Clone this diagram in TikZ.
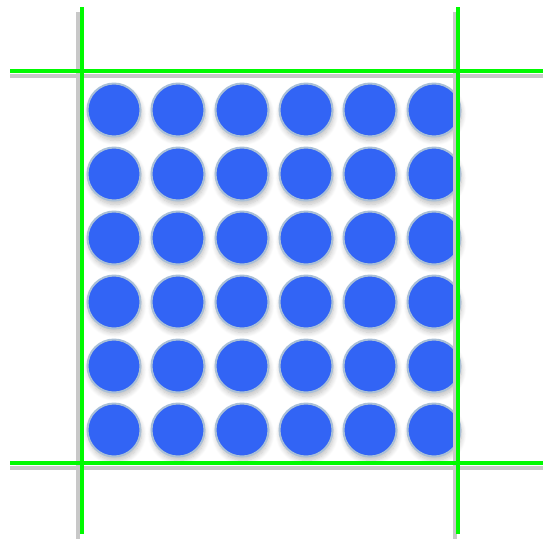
\documentclass[tikz,border=0pt]{standalone}
\usepackage{tikz}
\usetikzlibrary{shadows.blur}
\definecolor{dotblue}{RGB}{50,100,245}
\definecolor{dotrim}{RGB}{170,192,215}
\definecolor{gridgreen}{RGB}{0,250,0}
\definecolor{gridshade}{RGB}{200,200,200}
\tikzset{
  dot/.style={circle, draw=dotrim, line width=2pt, fill=dotblue,
    minimum size=53pt, inner sep=0pt,
    blur shadow={shadow xshift=1pt, shadow yshift=-4pt, shadow blur radius=5pt,
      shadow blur steps=8, shadow opacity=25}},
  gridline/.style={draw=gridgreen, line width=4.8pt},
  gridshade/.style={draw=gridshade, line width=3.5pt},
}

\begin{document}
\begin{tikzpicture}[x=1pt, y=-1pt]
    \useasboundingbox (0,0) rectangle (543,539);
    % dots
    \foreach \i in {0,...,5}
      \foreach \j in {0,...,5}
        \node[dot] (d\i\j) at (114+64*\i, 110+64*\j) {};
    % shadows under the lines
    \draw[gridshade] (10,76) -- (543,76);
    \draw[gridshade] (10,468) -- (543,468);
    \draw[gridshade] (78,12) -- (78,539);
    \draw[gridshade] (455,12) -- (455,539);
    % green lines
    \draw[gridline] (10,71) -- (543,71);
    \draw[gridline] (10,463) -- (543,463);
    \draw[gridline] (82,7) -- (82,534);
    \draw[gridline] (458,7) -- (458,534);
\end{tikzpicture}
\end{document}
